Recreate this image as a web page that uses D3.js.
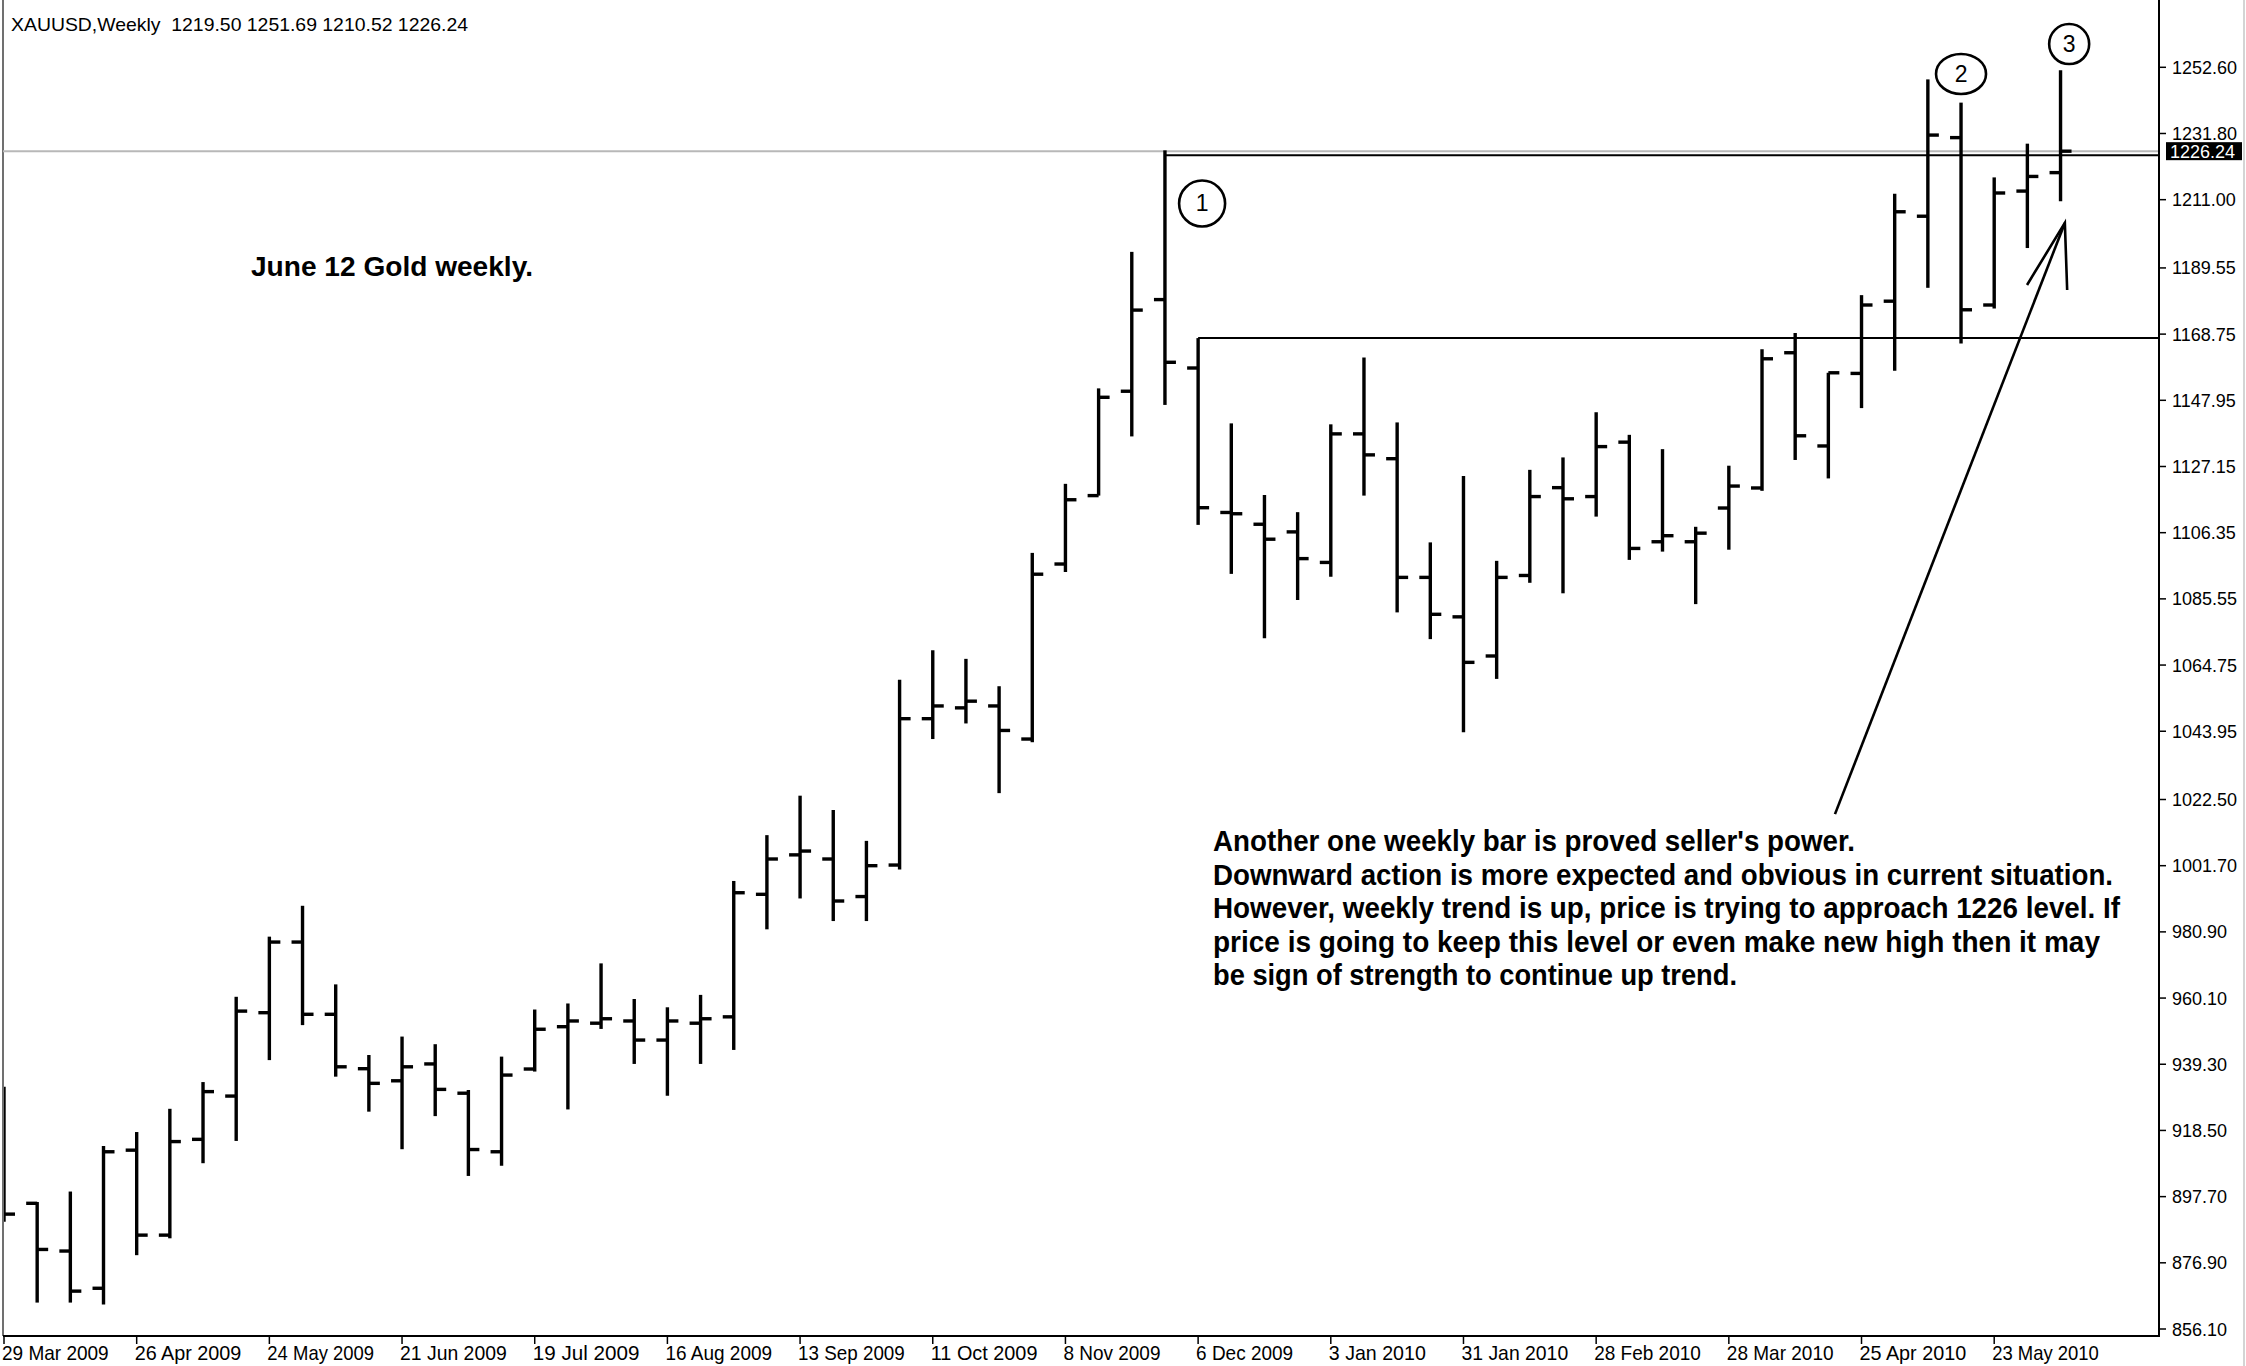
<!DOCTYPE html>
<html><head><meta charset="utf-8">
<script src="https://cdn.jsdelivr.net/npm/d3@7/dist/d3.min.js"></script>
<style>html,body{margin:0;padding:0;background:#fff;overflow:hidden}</style>
</head><body>
<svg id="chart" width="2246" height="1366"></svg>
<script>
// ---- data (weekly XAUUSD bars) ----
const dates = ["2009-03-29","2009-04-05","2009-04-12","2009-04-19","2009-04-26","2009-05-03","2009-05-10","2009-05-17","2009-05-24","2009-05-31",
"2009-06-07","2009-06-14","2009-06-21","2009-06-28","2009-07-05","2009-07-12","2009-07-19","2009-07-26","2009-08-02","2009-08-09",
"2009-08-16","2009-08-23","2009-08-30","2009-09-06","2009-09-13","2009-09-20","2009-09-27","2009-10-04","2009-10-11","2009-10-18",
"2009-10-25","2009-11-01","2009-11-08","2009-11-15","2009-11-22","2009-11-29","2009-12-06","2009-12-13","2009-12-20","2009-12-27",
"2010-01-03","2010-01-10","2010-01-17","2010-01-24","2010-01-31","2010-02-07","2010-02-14","2010-02-21","2010-02-28","2010-03-07",
"2010-03-14","2010-03-21","2010-03-28","2010-04-04","2010-04-11","2010-04-18","2010-04-25","2010-05-02","2010-05-09","2010-05-16",
"2010-05-23","2010-05-30","2010-06-06"];
const openP  = [924.0,895.6,880.6,868.9,912.3,885.6,915.7,929.3,955.5,977.7,955.0,937.9,934.1,939.4,930.2,911.8,937.8,951.1,952.2,952.9,
946.9,952.2,954.2,992.7,1005.1,1003.8,992.0,1001.9,1047.9,1051.3,1051.9,1041.5,1096.5,1118.0,1150.8,1179.6,1158.1,1112.7,1109.0,1106.6,
1097.0,1137.4,1129.6,1092.3,1079.9,1067.6,1092.9,1120.5,1117.7,1134.8,1103.5,1103.5,1114.1,1120.4,1162.9,1133.6,1156.4,1179.1,1205.8,1230.5,
1177.9,1213.7,1219.50];
const highP  = [932.2,896.0,899.3,913.6,918.0,925.3,933.7,960.5,979.4,989.1,964.4,942.2,948.0,945.6,931.2,941.7,956.5,958.4,971.0,959.8,
957.2,961.1,996.9,1011.3,1023.7,1019.2,1009.5,1060.1,1069.4,1066.7,1058.1,1100.0,1121.7,1151.7,1194.6,1226.5,1167.5,1140.7,1118.2,1112.8,
1140.4,1161.4,1141.0,1103.3,1124.2,1097.5,1126.1,1130.0,1144.2,1137.1,1132.6,1108.2,1127.4,1164.0,1169.1,1156.6,1181.0,1212.9,1248.8,1241.5,
1218.0,1228.6,1251.69];
const lowP   = [889.8,864.4,864.4,863.8,879.3,884.6,908.2,915.2,940.6,951.6,935.4,924.4,912.6,923.0,904.2,907.4,937.0,925.1,950.4,939.4,
929.4,939.4,943.8,981.7,991.4,984.3,984.3,1000.5,1041.5,1046.4,1024.5,1040.5,1094.0,1118.0,1136.6,1146.5,1108.8,1093.4,1073.2,1085.2,
1092.5,1118.0,1081.3,1072.9,1043.6,1060.4,1090.6,1087.3,1111.4,1097.8,1100.4,1083.9,1101.0,1119.5,1129.2,1123.4,1145.5,1157.2,1183.3,1165.8,
1176.8,1195.8,1210.52];
const closeP = [892.2,881.1,868.0,911.8,885.6,915.0,930.7,956.0,977.7,955.0,938.5,933.3,938.5,931.4,912.5,935.9,950.3,952.9,953.6,946.9,
952.9,953.6,993.2,1003.8,1006.3,990.6,1001.7,1047.9,1051.9,1053.4,1044.2,1093.3,1116.7,1148.9,1176.3,1159.9,1114.2,1112.3,1104.3,1098.2,
1137.4,1130.8,1092.3,1080.7,1065.6,1092.3,1117.7,1117.0,1133.4,1101.4,1105.4,1106.2,1121.0,1161.0,1136.8,1156.6,1177.9,1207.2,1231.3,1176.4,
1213.1,1218.3,1226.24];

const yTickLabels = ["856.10","876.90","897.70","918.50","939.30","960.10","980.90","1001.70","1022.50","1043.95",
"1064.75","1085.55","1106.35","1127.15","1147.95","1168.75","1189.55","1211.00","1231.80","1252.60"];
const xTickDates = ["2009-03-29","2009-04-26","2009-05-24","2009-06-21","2009-07-19","2009-08-16","2009-09-13","2009-10-11",
"2009-11-08","2009-12-06","2010-01-03","2010-01-31","2010-02-28","2010-03-28","2010-04-25","2010-05-23"];
const xTickLabels = ["29 Mar 2009","26 Apr 2009","24 May 2009","21 Jun 2009","19 Jul 2009","16 Aug 2009","13 Sep 2009","11 Oct 2009",
"8 Nov 2009","6 Dec 2009","3 Jan 2010","31 Jan 2010","28 Feb 2010","28 Mar 2010","25 Apr 2010","23 May 2010"];

const headerText = "XAUUSD,Weekly  1219.50 1251.69 1210.52 1226.24";
const bidPrice = 1226.24;
const titleText = "June 12 Gold weekly.";
const noteLines = ["Another one weekly bar is proved seller's power.",
"Downward action is more expected and obvious in current situation.",
"However, weekly trend is up, price is trying to approach 1226 level. If",
"price is going to keep this level or even make new high then it may",
"be sign of strength to continue up trend."];
// level lines: [start date, price]
const levels = [["2009-11-29",1225.0],["2009-12-06",1167.5]];
// circled markers: label, bar position (index + fraction), price
const markers = [["1",36.12,1209.8,23,23],["2",59.0,1250.5,25,20],["3",62.26,1259.9,20,20]];
// arrow in data space: [index, price]
const arrowTail = [55.2,1017.9], arrowTip = [62.13,1203.7], barbL = [60.99,1184.2], barbR = [62.2,1182.6];

// ---- layout ----
const W = 2246, H = 1366;
const plotLeft = 3, axisX = 2159, axisY = 1336;
const FONT = "Liberation Sans, Arial, sans-serif";
const NARROW = "Liberation Sans Narrow, Liberation Sans, Arial, sans-serif";
const svg = d3.select("#chart");
svg.append("rect").attr("width",W).attr("height",H).attr("fill","#fff");

const x = d3.scalePoint().domain(dates).range([4, 4 + 62*33.17]);
const xi = d3.scaleLinear().domain([0,62]).range([4, 4 + 62*33.17]);
const y = d3.scaleLinear().domain([856.1,1252.6]).range([1329,67.3]);

svg.append("defs").append("clipPath").attr("id","plot")
  .append("rect").attr("x",plotLeft+1).attr("y",0).attr("width",axisX-plotLeft-1).attr("height",axisY);

// frame
svg.append("line").attr("x1",plotLeft).attr("x2",plotLeft).attr("y1",0).attr("y2",axisY)
  .attr("stroke","#707070").attr("stroke-width",2);
svg.append("line").attr("x1",2244).attr("x2",2244).attr("y1",0).attr("y2",H)
  .attr("stroke","#d4d4d4").attr("stroke-width",2);

// bid line
svg.append("line").attr("x1",plotLeft).attr("x2",axisX).attr("y1",y(bidPrice)).attr("y2",y(bidPrice))
  .attr("stroke","#b8b8b8").attr("stroke-width",2);

// level lines
levels.forEach(([d,p])=>{
  svg.append("line").attr("x1",x(d)).attr("x2",axisX).attr("y1",y(p)).attr("y2",y(p))
    .attr("stroke","#000").attr("stroke-width",2);
});

// bars
const bars = dates.map((d,i)=>({d,o:openP[i],h:highP[i],l:lowP[i],c:closeP[i]}));
const g = svg.append("g").attr("clip-path","url(#plot)");
const bg = g.selectAll("g.bar").data(bars).join("g").attr("class","bar");
const SW = 3.4;
bg.append("line").attr("x1",b=>x(b.d)).attr("x2",b=>x(b.d)).attr("y1",b=>y(b.h)).attr("y2",b=>y(b.l))
  .attr("stroke","#000").attr("stroke-width",SW);
bg.append("line").attr("x1",b=>x(b.d)-11).attr("x2",b=>x(b.d)).attr("y1",b=>y(b.o)).attr("y2",b=>y(b.o))
  .attr("stroke","#000").attr("stroke-width",SW);
bg.append("line").attr("x1",b=>x(b.d)).attr("x2",b=>x(b.d)+11).attr("y1",b=>y(b.c)).attr("y2",b=>y(b.c))
  .attr("stroke","#000").attr("stroke-width",SW);

// axes lines
svg.append("line").attr("x1",axisX).attr("x2",axisX).attr("y1",0).attr("y2",axisY)
  .attr("stroke","#000").attr("stroke-width",2);
svg.append("line").attr("x1",plotLeft).attr("x2",axisX+1).attr("y1",axisY).attr("y2",axisY)
  .attr("stroke","#000").attr("stroke-width",2);

// y axis ticks/labels
const yAxis = svg.append("g");
yTickLabels.forEach(t=>{
  const v = +t;
  yAxis.append("line").attr("x1",axisX).attr("x2",axisX+7).attr("y1",y(v)).attr("y2",y(v)).attr("stroke","#000").attr("stroke-width",1.5);
  yAxis.append("text").attr("x",axisX+13).attr("y",y(v)+6.5).text(t)
    .attr("font-family",FONT).attr("font-size",18).attr("fill","#000");
});
// bid label box
svg.append("rect").attr("x",axisX+7).attr("y",y(bidPrice)-9).attr("width",76).attr("height",18).attr("fill","#000");
svg.append("text").attr("x",axisX+11).attr("y",y(bidPrice)+6.5).text(bidPrice.toFixed(2))
  .attr("font-family",FONT).attr("font-size",18).attr("fill","#fff");

// x axis ticks/labels
xTickDates.forEach((d,i)=>{
  svg.append("line").attr("x1",x(d)).attr("x2",x(d)).attr("y1",axisY).attr("y2",axisY+8).attr("stroke","#000").attr("stroke-width",1.5);
  svg.append("text").attr("x",x(d)-2).attr("y",1360).text(xTickLabels[i])
    .attr("font-family",NARROW).attr("font-size",21).attr("fill","#000")
    .attr("textLength",xTickLabels[i].length*9.7).attr("lengthAdjust","spacingAndGlyphs");
});

// header
svg.append("text").attr("x",11).attr("y",31).text(headerText).attr("xml:space","preserve")
  .style("white-space","pre")
  .attr("font-family",FONT).attr("font-size",19).attr("fill","#000")
  .attr("textLength",457).attr("lengthAdjust","spacingAndGlyphs");

// title
svg.append("text").attr("x",251).attr("y",276).text(titleText)
  .attr("font-family",FONT).attr("font-weight","bold").attr("font-size",27).attr("fill","#000")
  .attr("textLength",282).attr("lengthAdjust","spacingAndGlyphs");

// annotation note
const noteW = [642,900,907,887,524];
noteLines.forEach((t,i)=>{
  svg.append("text").attr("x",1213).attr("y",851 + i*33.6).text(t)
    .attr("font-family",NARROW).attr("font-weight","bold").attr("font-size",29).attr("fill","#000")
    .attr("textLength",noteW[i]).attr("lengthAdjust","spacingAndGlyphs");
});

// arrow
const P = p=>[xi(p[0]), y(p[1])];
svg.append("path").attr("d", d3.line()([P(arrowTail),P(arrowTip)]))
  .attr("stroke","#000").attr("stroke-width",2.6).attr("fill","none");
svg.append("path").attr("d", d3.line()([P(barbL),P(arrowTip),P(barbR)]))
  .attr("stroke","#000").attr("stroke-width",2.6).attr("fill","none");

// circled markers
markers.forEach(([lab,ix,pr,rx,ry])=>{
  const cx = xi(ix), cy = y(pr);
  svg.append("ellipse").attr("cx",cx).attr("cy",cy).attr("rx",rx).attr("ry",ry)
    .attr("fill","#fff").attr("stroke","#000").attr("stroke-width",2.6);
  svg.append("text").attr("x",cx).attr("y",cy+8).attr("text-anchor","middle").text(lab)
    .attr("font-family",FONT).attr("font-size",23).attr("fill","#000");
});
</script>
</body></html>
